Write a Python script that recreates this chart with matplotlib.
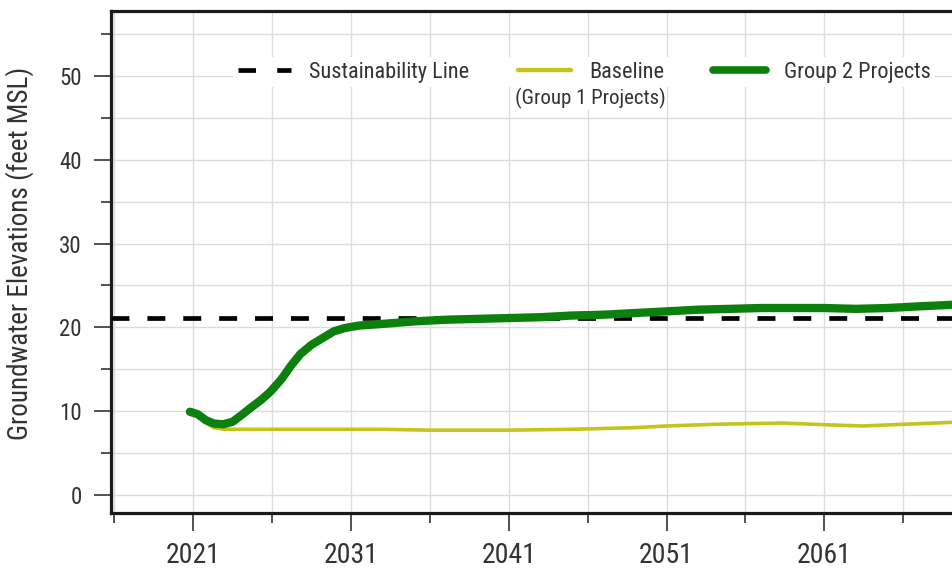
import numpy as np
from matplotlib import pyplot as plt
from matplotlib import font_manager
from matplotlib.lines import Line2D
from matplotlib.ticker import MultipleLocator

# narrow sans, like the Arial Narrow of the original
families = ['Liberation Sans Narrow', 'Arial Narrow', 'Roboto Condensed',
            'Archivo Narrow', 'PT Sans Narrow', 'DejaVu Sans']
available = set(f.name for f in font_manager.fontManager.ttflist)
plt.rcParams['font.family'] = [f for f in families if f in available]

# ---------------- data ----------------
sustainability_level = 21.1

group2_years = [2020.8, 2021.3, 2021.8, 2022.3, 2022.9, 2023.5, 2024.0, 2024.6,
                2025.3, 2025.9, 2026.6, 2027.2, 2027.8, 2028.5, 2029.2, 2029.9,
                2030.6, 2031.5, 2033, 2035, 2037, 2039, 2041, 2043, 2045, 2047,
                2049, 2051, 2053, 2055, 2057, 2059, 2061, 2063, 2065, 2067, 2069.3]
group2_elev = [9.9, 9.6, 8.9, 8.5, 8.4, 8.7, 9.4, 10.3,
               11.3, 12.3, 13.8, 15.4, 16.8, 17.9, 18.7, 19.5,
               19.9, 20.2, 20.4, 20.7, 20.9, 21.0, 21.1, 21.2, 21.4, 21.5,
               21.7, 21.9, 22.1, 22.2, 22.3, 22.3, 22.3, 22.2, 22.3, 22.5, 22.7]

baseline_years = [2020.8, 2021.3, 2021.8, 2022.3, 2023, 2025, 2031, 2033, 2036,
                  2041, 2045, 2049, 2051, 2054, 2056.7, 2058.4, 2061, 2063.4,
                  2066, 2069.3]
baseline_elev = [9.7, 9.4, 8.6, 8.0, 7.8, 7.8, 7.8, 7.8, 7.7,
                 7.7, 7.8, 8.0, 8.2, 8.4, 8.5, 8.55, 8.35, 8.2,
                 8.4, 8.65]

year_ticks = [2021, 2031, 2041, 2051, 2061]

yellow = '#c4c41c'
green = '#0c800c'
tick_grey = '#333333'

# ---------------- figure ----------------
fig = plt.figure(figsize=(9.53, 5.71), dpi=100)
ax = fig.add_axes([0.1165, 0.1016, 0.8835, 0.8791])

ax.axhline(sustainability_level, color='black', lw=3.4, dashes=(3.8, 3.8),
           zorder=3)
ax.plot(baseline_years, baseline_elev, color=yellow, lw=2.6,
        solid_capstyle='round', zorder=4)
ax.plot(group2_years, group2_elev, color=green, lw=6,
        solid_capstyle='round', solid_joinstyle='round', zorder=5)

ax.set_xlim(2015.8, 2069.15)
ax.set_ylim(-2.2, 57.8)

ax.set_xticks(year_ticks)
ax.xaxis.set_minor_locator(MultipleLocator(5, offset=1))
ax.yaxis.set_major_locator(MultipleLocator(10))
ax.yaxis.set_minor_locator(MultipleLocator(5))
ax.set_yticks(np.arange(0, 51, 10))

ax.grid(which='both', color='#dcdcdc', lw=1.0, zorder=0)
ax.set_axisbelow(True)

for side in ['left', 'bottom', 'top']:
    ax.spines[side].set_linewidth(2.3)
    ax.spines[side].set_color('#1a1a1a')
ax.spines['right'].set_visible(False)

ax.tick_params(axis='y', which='major', length=12, width=1.2, color=tick_grey,
               labelsize=16.5, labelcolor=tick_grey, pad=9)
ax.tick_params(axis='y', which='minor', length=7, width=1.2, color=tick_grey)
ax.tick_params(axis='x', which='major', length=13, width=1.2, color=tick_grey,
               labelsize=20, labelcolor=tick_grey, pad=8)
ax.tick_params(axis='x', which='minor', length=7, width=1.2, color=tick_grey)

ax.set_ylabel('Groundwater Elevations (feet MSL)', fontsize=19.5,
              color=tick_grey)
ax.yaxis.set_label_coords(-0.0915, 0.518)

# legend
handles = [
    Line2D([], [], color='black', lw=3.4, dashes=(3.7, 4.5)),
    Line2D([], [], color=yellow, lw=3.2, solid_capstyle='round'),
    Line2D([], [], color=green, lw=5.5, solid_capstyle='round'),
]
labels = ['Sustainability Line', 'Baseline', 'Group 2 Projects']
leg = ax.legend(handles, labels, ncol=3, loc='center',
                bbox_to_anchor=(0.5623, 0.8785), fontsize=16,
                frameon=True, facecolor='white', edgecolor='none',
                framealpha=1.0, fancybox=False, handlelength=2.4,
                handletextpad=0.8, columnspacing=2.2, borderpad=0.2)
for t in leg.get_texts():
    t.set_color(tick_grey)
leg.set_zorder(6)

ax.text(0.4798, 0.8267, '(Group 1 Projects)', transform=ax.transAxes,
        ha='left', va='center', fontsize=15, color=tick_grey, zorder=7,
        bbox=dict(facecolor='white', edgecolor='none', pad=1.0))

fig.savefig('out.png', dpi=100)
